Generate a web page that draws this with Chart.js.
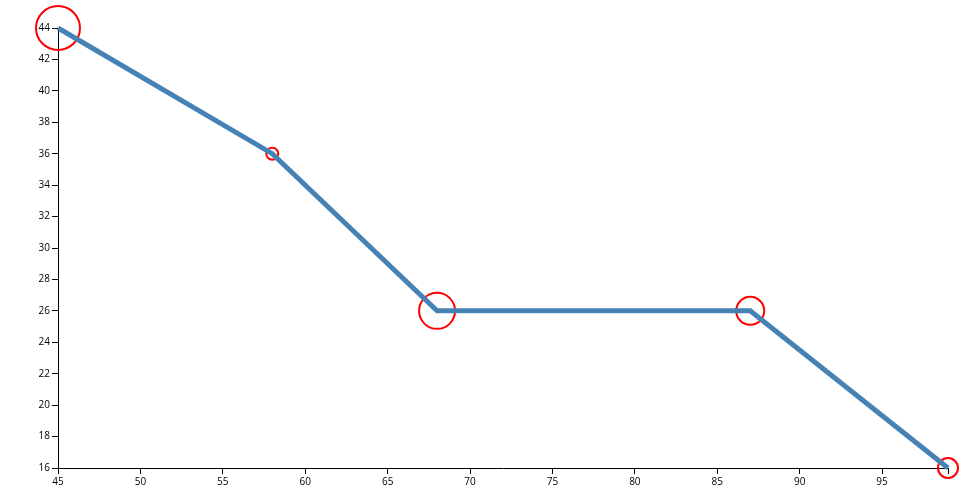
<!DOCTYPE html>
<html>
<head>
<meta charset="utf-8">
<script src="https://cdn.jsdelivr.net/npm/chart.js@4/dist/chart.umd.min.js"></script>
<style>
html,body{margin:0;padding:0;background:#fff;}
#wrap{width:960px;height:500px;position:relative;}
</style>
</head>
<body>
<div id="wrap"><canvas id="c" width="960" height="500"></canvas></div>
<script>
const xValues = [45, 58, 68, 87, 99];
const yValues = [44, 36, 26, 26, 16];
const circleRadii = [22, 6, 18, 14, 10];
const xTickStep = 5;
const yTickStep = 2;

const pts = xValues.map((x, i) => ({x: x, y: yValues[i]}));

new Chart(document.getElementById('c'), {
  type: 'scatter',
  data: {
    datasets: [
      {
        data: pts,
        showLine: true,
        borderColor: '#4682b4',
        borderWidth: 5,
        pointRadius: 0,
        fill: false,
        order: 1,
        clip: false
      },
      {
        data: pts,
        showLine: false,
        pointRadius: circleRadii,
        pointBorderColor: 'red',
        pointBackgroundColor: 'rgba(0,0,0,0)',
        pointBorderWidth: 2,
        order: 2,
        clip: false
      }
    ]
  },
  options: {
    responsive: false,
    animation: false,
    layout: {padding: {top: 28, right: 12, left: 0, bottom: 0}},
    plugins: {legend: {display: false}, tooltip: {enabled: false}},
    scales: {
      x: {
        type: 'linear',
        min: 45, max: 99,
        afterFit: s => { s.height = 32; },
        border: {display: true, color: '#000', width: 1},
        grid: {display: true, drawOnChartArea: false, drawTicks: true, tickLength: 6, color: '#000'},
        ticks: {
          stepSize: xTickStep,
          padding: 2,
          maxRotation: 0,
          autoSkip: false,
          color: '#000',
          font: {family: 'Open Sans', size: 10},
          callback: v => (v % xTickStep === 0 ? String(v) : '')
        }
      },
      y: {
        type: 'linear',
        min: 16, max: 44,
        afterFit: s => { s.width = 58; },
        border: {display: true, color: '#000', width: 1},
        grid: {display: true, drawOnChartArea: false, drawTicks: true, tickLength: 6, color: '#000'},
        ticks: {
          stepSize: yTickStep,
          padding: 2,
          autoSkip: false,
          color: '#000',
          font: {family: 'Open Sans', size: 10}
        }
      }
    }
  },
  plugins: [{
    id: 'fixArea',
    afterLayout(chart) {
      const ca = chart.chartArea;
      const xs = chart.scales.x, ys = chart.scales.y;
      const L = 58, R = 948, T = 28, B = 468;
      ca.left = L; ca.right = R; ca.top = T; ca.bottom = B;
      ca.width = R - L; ca.height = B - T;
      xs.left = L; xs.right = R; xs.width = R - L; xs.top = B; xs.bottom = 500; xs.height = 500 - B;
      ys.left = 0; ys.right = L; ys.width = L; ys.top = T; ys.bottom = B; ys.height = B - T;
      xs.configure(); ys.configure();
    }
  }]
});
</script>
</body>
</html>
